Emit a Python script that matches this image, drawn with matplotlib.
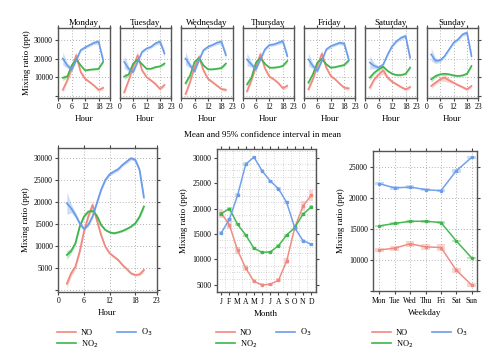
import numpy as np
import matplotlib
matplotlib.use("Agg")
import matplotlib.pyplot as plt

plt.rcParams['font.family'] = ['Liberation Serif', 'DejaVu Serif']

# colours
c_no, c_no2, c_o3 = "#F0887E", "#3DB54A", "#6A9CEA"

# ---- day panels (top row), hours 2..20 every 2 h
days = ["Monday", "Tuesday", "Wednesday", "Thursday", "Friday", "Saturday", "Sunday"]
day_hours = [2, 4, 6, 8, 10, 12, 14, 16, 18, 20]
day_no = {
    "Monday":    [3300, 8400, 14700, 22000, 12900, 9300, 7500, 5600, 3300, 4400],
    "Tuesday":   [2000, 8400, 15600, 22000, 13800, 10200, 8400, 6500, 3800, 6000],
    "Wednesday": [1100, 7500, 15600, 21100, 13800, 9300, 7500, 5600, 3800, 3300],
    "Thursday":  [2500, 8500, 16000, 22500, 15000, 10500, 9000, 7000, 4200, 5500],
    "Friday":    [3600, 9000, 16200, 22800, 15300, 10800, 9000, 6600, 4500, 4100],
    "Saturday":  [4500, 9000, 11700, 13800, 9900, 7700, 6300, 4800, 3600, 4800],
    "Sunday":    [5400, 7200, 9000, 9900, 8400, 7200, 5900, 4800, 3600, 5400],
}
day_no2 = {
    "Monday":    [9800, 10500, 16500, 19800, 16500, 13800, 14200, 14400, 14700, 18400],
    "Tuesday":   [10500, 11600, 17500, 19600, 17100, 14700, 14700, 15600, 16000, 17500],
    "Wednesday": [6900, 11100, 18400, 20500, 16500, 14400, 14400, 14700, 15100, 17500],
    "Thursday":  [6300, 9900, 18000, 20600, 17400, 15300, 15300, 15600, 16200, 18900],
    "Friday":    [7200, 11700, 18000, 20100, 17100, 15300, 15600, 16200, 16700, 19200],
    "Saturday":  [9900, 12600, 14400, 15800, 13500, 12000, 11300, 11300, 12000, 15300],
    "Sunday":    [9000, 10800, 11700, 12000, 11700, 11100, 10800, 11100, 12000, 16200],
}
day_o3 = {
    "Monday":    [20200, 16500, 14200, 19300, 24700, 26200, 27500, 28700, 29300, 19300],
    "Tuesday":   [18400, 14700, 12900, 18400, 23800, 25600, 26500, 28400, 29300, 22900],
    "Wednesday": [20200, 16500, 13300, 19300, 24700, 26500, 27500, 28700, 29300, 22000],
    "Thursday":  [19700, 17000, 14400, 19700, 25100, 27500, 27800, 28700, 29600, 21500],
    "Friday":    [19700, 16200, 13500, 18900, 25100, 26900, 27800, 28700, 28200, 19700],
    "Saturday":  [18000, 16200, 15300, 17000, 22400, 26900, 29600, 31400, 32300, 20600],
    "Sunday":    [22400, 18900, 19200, 21500, 25100, 28700, 30500, 33200, 34100, 21500],
}
day_ci_no = [1500, 1000, 1300, 2000, 1200, 800, 700, 700, 800, 1100]
day_ci_no2 = [1500, 800, 700, 700, 600, 500, 500, 500, 600, 900]
day_ci_o3 = [3500, 1500, 1000, 800, 800, 800, 800, 1000, 1200, 2000]

# ---- hour panel
hours = list(range(2, 21))
hour_no = [1500, 3850, 5350, 8750, 13270, 16670, 19300, 15910, 12520, 9880,
           8370, 7620, 6860, 5730, 4830, 3850, 3470, 3620, 4600]
hour_no2 = [8000, 8900, 10630, 14400, 16670, 17800, 17950, 16900, 14780, 13650,
            13120, 12900, 13120, 13420, 13870, 14400, 15160, 16670, 18930]
hour_o3 = [19680, 18550, 17040, 15160, 13880, 14780, 16670, 19680, 22700, 24960,
           26240, 26850, 27380, 28360, 29110, 29860, 29480, 27220, 21000]
hour_ci_no = [1000, 700, 600, 500, 500, 600, 900, 600, 400, 300,
              300, 300, 300, 300, 300, 300, 300, 300, 500]
hour_ci_no2 = [1000, 500, 400, 300, 300, 300, 300, 300, 300, 200,
               200, 200, 200, 200, 200, 200, 300, 400, 600]
hour_ci_o3 = [2500, 1000, 600, 500, 400, 400, 400, 400, 400, 400,
              400, 400, 400, 400, 400, 400, 400, 500, 900]

# ---- month panel
months = list(range(1, 13))
month_labels = ["J", "F", "M", "A", "M", "J", "J", "A", "S", "O", "N", "D"]
month_no = [19100, 16800, 11800, 8300, 5700, 5000, 5150, 5900, 9700, 16300, 20500, 22600]
month_no2 = [19000, 20000, 16900, 14800, 12200, 11400, 11500, 12700, 14800, 16300, 18900, 20300]
month_o3 = [15200, 17900, 22600, 28700, 30100, 27400, 25400, 23900, 21200, 16200, 13700, 13000]
month_ci_no = [900, 800, 700, 600, 400, 300, 300, 400, 600, 700, 900, 1100]
month_ci_no2 = [400, 300, 300, 300, 300, 250, 250, 250, 300, 300, 400, 400]
month_ci_o3 = [300, 300, 400, 400, 300, 300, 300, 300, 300, 300, 300, 300]

# ---- weekday panel
wdays = ["Mon", "Tue", "Wed", "Thu", "Fri", "Sat", "Sun"]
wday_no = [11600, 11900, 12600, 12100, 12000, 8300, 5900]
wday_no2 = [15500, 15900, 16250, 16250, 16050, 13050, 10300]
wday_o3 = [22350, 21650, 21800, 21380, 21200, 24450, 26600]
wday_ci_no = [400, 400, 500, 450, 550, 400, 300]
wday_ci_no2 = [200, 200, 200, 200, 200, 200, 200]
wday_ci_o3 = [250, 250, 250, 250, 250, 300, 250]

W, H = 500, 363
fig = plt.figure(figsize=(5.0, 3.63), dpi=100)


def box(l, t, r, b):
    return fig.add_axes([l / W, 1 - b / H, (r - l) / W, (b - t) / H])


def style(ax, fs=5.5):
    for s in ax.spines.values():
        s.set_color("#555555")
        s.set_linewidth(1.0)
    ax.tick_params(direction="out", length=2.5, width=0.8, color="#444444",
                   labelsize=fs, pad=1.5, top=True, right=True)
    ax.grid(True, linestyle=(0, (1, 2.5)), color="#999999", linewidth=0.6)
    ax.set_axisbelow(True)


def band(ax, x, y, ci, col, lw=1.1):
    y = np.array(y)
    ci = np.array(ci)
    ax.fill_between(x, y - ci, y + ci, color=col, alpha=0.35, lw=0)
    ax.plot(x, y, color=col, lw=lw, solid_joinstyle="round")


# top row
for i, d in enumerate(days):
    l = 58.3 + 61.4 * i
    ax = box(l, 27.5, l + 51.5, 97.7)
    style(ax, 5.5)
    band(ax, day_hours, day_no[d], day_ci_no, c_no, 1.2)
    band(ax, day_hours, day_no2[d], day_ci_no2, c_no2, 1.2)
    band(ax, day_hours, day_o3[d], day_ci_o3, c_o3, 1.2)
    ax.set_xlim(0, 23)
    ax.set_ylim(-900, 36900)
    ax.set_xticks([0, 6, 12, 18, 23])
    ax.set_yticks([0, 10000, 20000, 30000])
    ax.set_title(d, fontsize=6.5, pad=2)
    ax.set_xlabel("Hour", fontsize=6.5, labelpad=3)
    ax.tick_params(left=(i == 0), right=(i == 6), labelleft=(i == 0))
    if i == 0:
        ax.set_yticklabels(["", "10000", "20000", "30000"])
        ax.set_ylabel("Mixing ratio (ppt)", fontsize=6.5, labelpad=2)


def legend(ax, x, y):
    hs = [plt.Line2D([], [], color=c, lw=1.2) for c in (c_no, c_no2, c_o3)]
    fig.legend(hs, ["NO", "NO$_2$", "O$_3$"], ncol=2, loc="upper left",
               bbox_to_anchor=(x / W, 1 - y / H), frameon=False, fontsize=6,
               handlelength=2.3, handletextpad=0.6, columnspacing=2.2,
               labelspacing=0.15, borderpad=0, borderaxespad=0)


# hour panel
ax = box(58.3, 148.3, 156.7, 291.7)
style(ax)
band(ax, hours, hour_no, hour_ci_no, c_no, 1.3)
band(ax, hours, hour_no2, hour_ci_no2, c_no2, 1.3)
band(ax, hours, hour_o3, hour_ci_o3, c_o3, 1.3)
ax.set_xlim(0, 23)
ax.set_ylim(-300, 32100)
ax.set_xticks([0, 6, 12, 18, 23])
ax.set_yticks(range(0, 30001, 5000))
ax.set_yticklabels([""] + [str(v) for v in range(5000, 30001, 5000)])
ax.set_xlabel("Hour", fontsize=6.5, labelpad=3)
ax.set_ylabel("Mixing ratio (ppt)", fontsize=6.5, labelpad=3)
legend(ax, 57, 327)


def boxes(ax, x, y, ci, col):
    for xi, yi, ci_i in zip(x, y, ci):
        ax.add_patch(plt.Rectangle((xi - 0.28, yi - ci_i), 0.56, 2 * ci_i,
                                   color=col, alpha=0.35, lw=0))
    ax.plot(x, y, color=col, lw=1.1, marker="s", ms=1.6, alpha=0.95)


# month panel
ax = box(216.7, 149.3, 315.7, 292.3)
style(ax)
ax.grid(False)
ax.set_xticks(np.arange(0.5, 12.6, 0.5), minor=True)
ax.set_yticks(np.arange(3750, 31300, 1250), minor=True)
ax.grid(True, which="minor", linestyle=(0, (1, 2.5)), color="#b0b0b0", linewidth=0.5)
ax.tick_params(which="minor", length=0)
boxes(ax, months, month_no, month_ci_no, c_no)
boxes(ax, months, month_no2, month_ci_no2, c_no2)
boxes(ax, months, month_o3, month_ci_o3, c_o3)
ax.set_xlim(0.45, 12.55)
ax.set_ylim(3560, 31630)
ax.set_xticks(months)
ax.set_xticklabels(month_labels)
ax.set_yticks(range(5000, 30001, 5000))
ax.set_xlabel("Month", fontsize=6.5, labelpad=3)
ax.set_ylabel("Mixing ratio (ppt)", fontsize=6.5, labelpad=3)
legend(ax, 216, 327)

# weekday panel
ax = box(373.3, 151, 476.7, 291)
style(ax)
wx = list(range(1, 8))
boxes(ax, wx, wday_no, wday_ci_no, c_no)
boxes(ax, wx, wday_no2, wday_ci_no2, c_no2)
boxes(ax, wx, wday_o3, wday_ci_o3, c_o3)
ax.set_xlim(0.61, 7.32)
ax.set_ylim(4950, 27640)
ax.set_xticks(wx)
ax.set_xticklabels(wdays)
ax.set_yticks(range(5000, 25001, 5000))
ax.set_yticklabels([""] + [str(v) for v in range(10000, 25001, 5000)])
ax.set_xlabel("Weekday", fontsize=6.5, labelpad=3)
ax.set_ylabel("Mixing ratio (ppt)", fontsize=6.5, labelpad=3)
legend(ax, 372, 327)

fig.text(263 / W, 1 - 135 / H, "Mean and 95% confidence interval in mean",
         ha="center", va="center", fontsize=6.5)

fig.savefig("out.png", dpi=100)
